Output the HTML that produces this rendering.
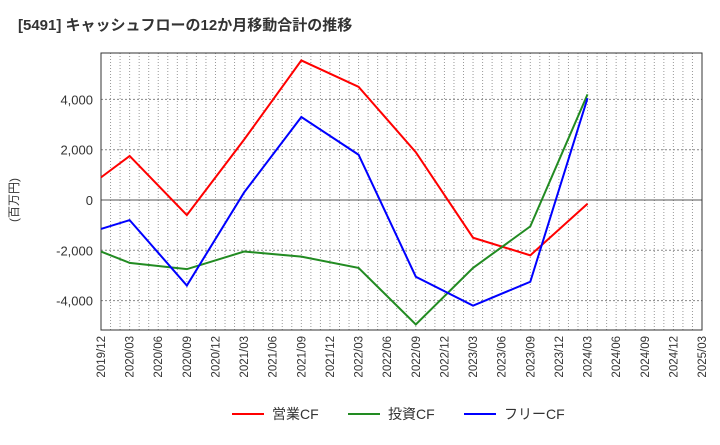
<!DOCTYPE html>
<html><head><meta charset="utf-8"><style>
body{margin:0;background:#fff;font-family:"Liberation Sans","Noto Sans CJK JP",sans-serif;}
</style></head><body>
<svg id="chart" width="720" height="440" xmlns="http://www.w3.org/2000/svg" font-family="Liberation Sans, Noto Sans CJK JP, sans-serif">
<text x="18" y="30" font-size="15" font-weight="bold" fill="#333">[5491]  キャッシュフローの12か月移動合計の推移</text>
<text transform="translate(18,200) rotate(-90)" text-anchor="middle" font-size="12" fill="#333">(百万円)</text>
<g id="grid"></g><g id="axes"></g><g id="series"></g>
<g>
<line x1="232" y1="414" x2="264" y2="414" stroke="#f00" stroke-width="2"/><text x="272" y="419" font-size="14" fill="#333">営業CF</text>
<line x1="348" y1="414" x2="380" y2="414" stroke="#228b22" stroke-width="2"/><text x="388" y="419" font-size="14" fill="#333">投資CF</text>
<line x1="464" y1="414" x2="496" y2="414" stroke="#00f" stroke-width="2"/><text x="504" y="419" font-size="14" fill="#333">フリーCF</text>
</g>
</svg>
<script>
const xLabels=["2019/12","2020/03","2020/06","2020/09","2020/12","2021/03","2021/06","2021/09","2021/12","2022/03","2022/06","2022/09","2022/12","2023/03","2023/06","2023/09","2023/12","2024/03","2024/06","2024/09","2024/12","2025/03"];
const yTicks=[-4000,-2000,0,2000,4000];
const operatingCF=[900,1750,null,-600,null,2400,null,5550,null,4500,null,1900,null,-1500,null,-2200,null,-150];
const investingCF=[-2050,-2500,null,-2750,null,-2050,null,-2250,null,-2700,null,-4950,null,-2700,null,-1050,null,4200];
const freeCF=[-1150,-800,null,-3400,null,300,null,3300,null,1800,null,-3050,null,-4200,null,-3250,null,4050];
const L=101,R=702,T=53,B=330;
const X=i=>L+(R-L)*i/(xLabels.length-1);
const Y=v=>200-v*50.3/2000;
const NS="http://www.w3.org/2000/svg";
function mk(tag,attrs,parent){const e=document.createElementNS(NS,tag);for(const k in attrs)e.setAttribute(k,attrs[k]);document.getElementById(parent).appendChild(e);return e;}
for(let m=1;m<(xLabels.length-1)*3;m++){const x=L+(R-L)*m/((xLabels.length-1)*3);
const g=mk('line',{x1:x,y1:T,x2:x,y2:B,stroke:'#999','stroke-dasharray':'1,2','stroke-width':1},'grid');

}
yTicks.forEach(v=>{const y=Y(v);
const g=mk('line',{x1:L,y1:y,x2:R,y2:y,stroke:v===0?'#555':'#888','stroke-dasharray':v===0?'':'2,2','stroke-width':1},'grid');


const t=mk('text',{x:L-8,y:y+5,'text-anchor':'end','font-size':13,fill:'#333'},'axes');t.textContent=v.toLocaleString('en-US');

});
const fr=mk('rect',{x:L,y:T,width:R-L,height:B-T,fill:'none',stroke:'#333','stroke-width':1},'axes');


xLabels.forEach((s,i)=>{const x=X(i);
const t=mk('text',{transform:`translate(${x+4},${B+6}) rotate(-90)`,'text-anchor':'end','font-size':11.5,fill:'#333'},'axes');t.textContent=s;

});
[[operatingCF,'#f00','operating-cf-line'],[investingCF,'#228b22','investing-cf-line'],[freeCF,'#00f','free-cf-line']].forEach(([d,c,n])=>{
const pts=d.map((v,i)=>v===null?null:`${X(i)},${Y(v)}`).filter(p=>p).join(' ');
const p=mk('polyline',{points:pts,fill:'none',stroke:c,'stroke-width':2},'series');

});
</script>
</body></html>
